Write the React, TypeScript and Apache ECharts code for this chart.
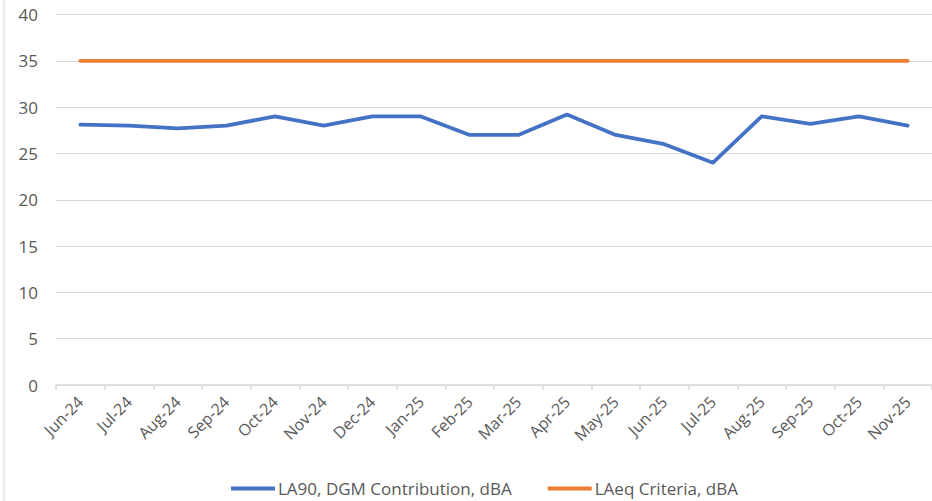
import React, { useEffect, useRef } from "react";
import * as echarts from "echarts";

const categories = [
  "Jun-24", "Jul-24", "Aug-24", "Sep-24", "Oct-24", "Nov-24", "Dec-24", "Jan-25", "Feb-25",
  "Mar-25", "Apr-25", "May-25", "Jun-25", "Jul-25", "Aug-25", "Sep-25", "Oct-25", "Nov-25",
];
const la90 = [28.1, 28.0, 27.7, 28.0, 29.0, 28.0, 29.0, 29.0, 27.0, 27.0, 29.2, 27.0, 26.0, 24.0, 29.0, 28.2, 29.0, 28.0];
const laeqCriteria = [35, 35, 35, 35, 35, 35, 35, 35, 35, 35, 35, 35, 35, 35, 35, 35, 35, 35];
const seriesNames = ["LA90, DGM Contribution, dBA", "LAeq Criteria, dBA"];

const FONT = "'Open Sans', 'Noto Sans', sans-serif";

export default function App() {
  const ref = useRef<HTMLDivElement>(null);
  useEffect(() => {
    if (!ref.current) return;
    const chart = echarts.init(ref.current, null, { renderer: "svg" });
    chart.setOption({
      animation: false,
      backgroundColor: "#ffffff",
      textStyle: { fontFamily: FONT },
      grid: { left: 56, right: -3, top: 14.5, bottom: 116, containLabel: false },
      legend: {
        bottom: 4,
        left: 231,
        padding: 0,
        itemWidth: 44,
        itemHeight: 4,
        itemGap: 36,
        icon: "rect",
        textStyle: { fontFamily: FONT, fontSize: 17, color: "#595959", padding: [0, 0, 0, -2] },
        data: seriesNames,
      },
      graphic: [
        {
          type: "line",
          shape: { x1: 4, y1: 0, x2: 4, y2: 501 },
          style: { stroke: "#d9d9d9", lineWidth: 1 },
        },
      ],
      xAxis: {
        type: "category",
        data: categories,
        boundaryGap: true,
        axisLine: { lineStyle: { color: "#d9d9d9", width: 1.5 } },
        axisTick: { show: true, length: 5, lineStyle: { color: "#d9d9d9", width: 1.5 } },
        axisLabel: { rotate: 45, fontSize: 16, color: "#595959", fontFamily: FONT, margin: 14 },
        splitLine: { show: false },
      },
      yAxis: {
        type: "value",
        min: 0,
        max: 40,
        interval: 5,
        axisLine: { show: false },
        axisTick: { show: false },
        axisLabel: { fontSize: 17, color: "#595959", fontFamily: FONT, margin: 18 },
        splitLine: { lineStyle: { color: "#d9d9d9", width: 1.2 } },
      },
      series: [
        {
          name: seriesNames[0],
          type: "line",
          data: la90,
          symbol: "none",
          lineStyle: { color: "#4472C4", width: 3.75, cap: "round", join: "round" },
          itemStyle: { color: "#4472C4" },
        },
        {
          name: seriesNames[1],
          type: "line",
          data: laeqCriteria,
          symbol: "none",
          lineStyle: { color: "#ED7D31", width: 3.75, cap: "round" },
          itemStyle: { color: "#ED7D31" },
        },
      ],
    });
    return () => chart.dispose();
  }, []);
  return <div ref={ref} style={{ position: "fixed", left: 0, top: 0, width: 932, height: 501 }} />;
}
